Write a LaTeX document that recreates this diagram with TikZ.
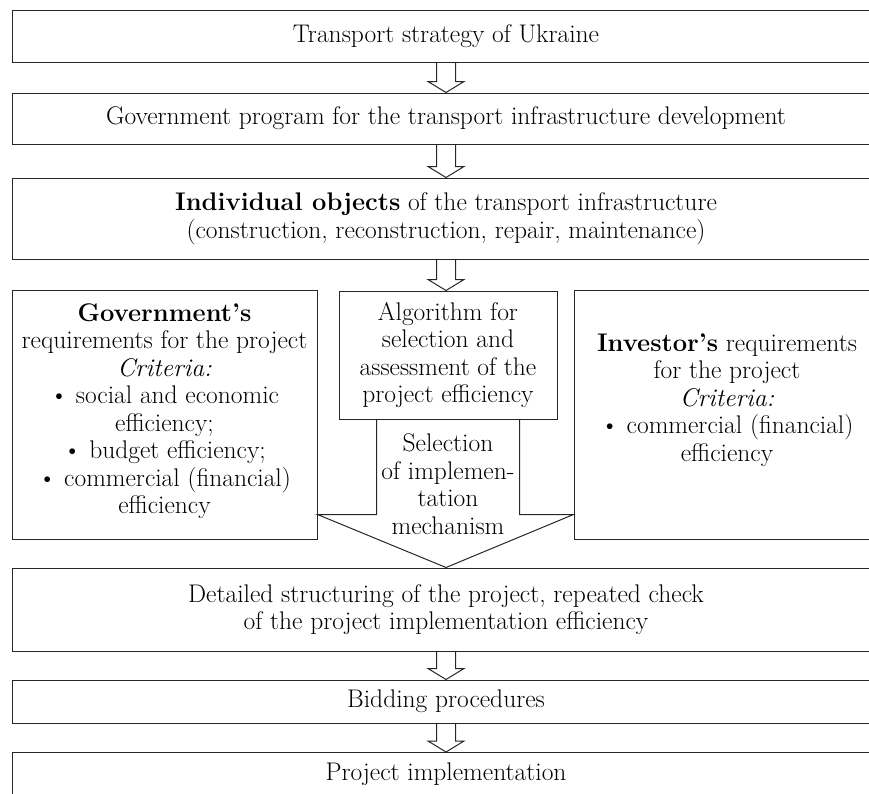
\documentclass[tikz,border=0pt]{standalone}
\usetikzlibrary{calc}
\newcommand\harr[2]{\draw[harrow] ($(#1.south)+(-9.5,0)$) -- ($(#1.south |- #2.north)+(-9.5,11)$) -- ++(-8.5,0) -- (#1.south |- #2.north) -- ++(18,11) -- ++(-8.5,0) -- ($(#1.south)+(9.5,0)$);}
\begin{document}
\begin{tikzpicture}[x=1pt,y=1pt,
  box/.style={draw=black!85, line width=1pt, inner sep=0pt, align=center, text=black},
  harrow/.style={draw=black!85, line width=1pt, line join=miter},
  txt/.style={align=center, inner sep=0pt, text=black},
  font=\fontsize{25.5}{27.5}\selectfont]
\useasboundingbox (0,0) rectangle (869,-793);
\begin{scope}
\clip (0,0) rectangle (869,-793);
\node[box, minimum width=868, minimum height=52] (s1) at (446,-36) {Transport strategy of Ukraine};
\node[box, minimum width=868, minimum height=51] (s2) at (446,-118.5) {Government program for the transport infrastructure development};
\node[box, minimum width=868, minimum height=81] (s3) at (446,-218.5) {\textbf{Individual objects} of the transport infrastructure\\(construction, reconstruction, repair, maintenance)};
\node[box, minimum width=305, minimum height=249] (gov) at (164.5,-414.5) {};
\node[txt] (govt) at (164.5,-411) {\textbf{Government’s}\\requirements for the project\\\textit{Criteria:}\\\textbullet\ social and economic\\efficiency;\\\textbullet\ budget efficiency;\\\textbullet\ commercial (financial)\\efficiency};
\node[box, minimum width=218, minimum height=128] (alg) at (448,-355) {Algorithm for\\selection and\\assessment of the\\project efficiency};
\node[box, minimum width=306, minimum height=249] (inv) at (727,-414.5) {};
\node[txt] (invt) at (727,-400) {\textbf{Investor’s} requirements\\for the project\\\textit{Criteria:}\\\textbullet\ commercial (financial)\\efficiency};
\node[box, minimum width=868, minimum height=83] (det) at (446,-609.5) {Detailed structuring of the project, repeated check\\of the project implementation efficiency};
\node[box, minimum width=868, minimum height=43] (bid) at (446,-701.5) {Bidding procedures};
\node[box, minimum width=868, minimum height=60, anchor=north] (impl) at (446,-752) {};
\node[txt] (implt) at (446,-774) {Project implementation};
\harr{s1}{s2}
\harr{s2}{s3}
\harr{s3}{alg}
\harr{det}{bid}
\harr{bid}{impl}
\draw[harrow] ($(alg.south west)+(38,0)$) |- ($(gov.south east)+(0,25)$) -- (det.north) -- ($(inv.south west)+(0,25)$) -| ($(alg.south east)+(-38,0)$);
\node[txt] (sel) at (448,-484) {Selection\\of implemen-\\tation\\mechanism};
\end{scope}
\end{tikzpicture}
\end{document}
